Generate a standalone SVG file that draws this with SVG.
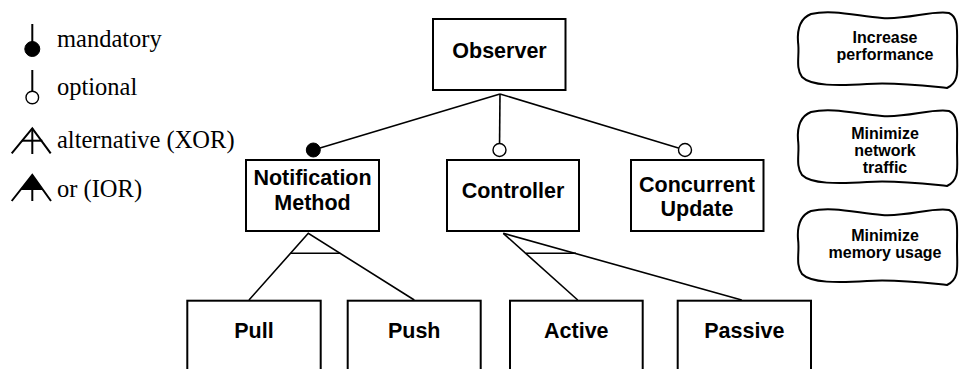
<svg xmlns="http://www.w3.org/2000/svg" width="959" height="369" viewBox="0 0 959 369">
  <defs>
    <style>
      .box { fill: #fff; stroke: #000; stroke-width: 2; }
      .lbl { font-family: "Liberation Sans", Arial, sans-serif; font-weight: bold; font-size: 21.5px; text-anchor: middle; fill: #000; }
      .goal { font-family: "Liberation Sans", Arial, sans-serif; font-weight: bold; font-size: 16px; text-anchor: middle; fill: #000; }
      .leg { font-family: "Liberation Serif", "Times New Roman", serif; font-size: 24.5px; fill: #000; }
      .ln { fill: none; stroke: #000; stroke-width: 1.6; }
      .lg { fill: none; stroke: #000; stroke-width: 2; }
      .blob { fill: #fff; stroke: #000; stroke-width: 2; }
      .opt { fill: #fff; stroke: #000; stroke-width: 1.4; }
      .man { fill: #000; stroke: #000; stroke-width: 1; }
    </style>
    <!-- hand-drawn cloud outline used for the goals -->
    <path id="cloud" d="M 14,4 C 35,-1 60,6 85,8 C 110,10 135,0 152,3 C 162,7 160,22 160,40 C 160,60 163,72 150,78 C 130,76 100,72 70,74 C 40,76 14,76 5,67 C -2,57 3,45 1,32 C 0,18 4,8 14,4 Z"/>
  </defs>

  <!-- legend -->
  <g id="legend">
    <line class="lg" x1="32.3" y1="24" x2="32.3" y2="43"/>
    <circle class="man" cx="32.3" cy="49" r="7.5"/>
    <text class="leg" x="57" y="46.7">mandatory</text>

    <line class="lg" x1="32.3" y1="70" x2="32.3" y2="91"/>
    <circle class="opt" cx="32.3" cy="97.5" r="6.3"/>
    <text class="leg" x="57" y="95">optional</text>

    <polyline class="lg" points="11.7,153.3 32.3,128.3 50.7,153.3"/>
    <line class="lg" x1="32.3" y1="128.3" x2="32.3" y2="154"/>
    <line class="lg" x1="22" y1="140.7" x2="42.3" y2="140.7"/>
    <text class="leg" x="57" y="148.3">alternative (XOR)</text>

    <polygon fill="#000" points="32.3,175 20.4,190 43.1,190"/>
    <polyline class="lg" points="11.7,201 32.3,175 51,201"/>
    <line class="lg" x1="32.3" y1="175" x2="32.3" y2="201"/>
    <text class="leg" x="57" y="196.7">or (IOR)</text>
  </g>

  <!-- connectors -->
  <g id="connectors">
    <line class="ln" x1="500" y1="94" x2="313.3" y2="150"/>
    <line class="ln" x1="500" y1="94" x2="499.5" y2="150"/>
    <line class="ln" x1="500" y1="94" x2="685" y2="150"/>
    <circle class="man" cx="313.3" cy="150" r="7"/>
    <circle class="opt" cx="499.5" cy="150" r="6.5"/>
    <circle class="opt" cx="685" cy="150" r="6.5"/>

    <polyline class="ln" points="249,300 308.3,233.3 414.3,300"/>
    <line class="ln" x1="290.5" y1="253.3" x2="340.3" y2="253.3"/>

    <line class="ln" x1="503.3" y1="233.3" x2="577.7" y2="300"/>
    <line class="ln" x1="503.3" y1="233.3" x2="741.7" y2="300"/>
    <line class="ln" x1="526" y1="253.3" x2="576" y2="253.3"/>
  </g>

  <!-- features -->
  <g id="observer">
    <rect class="box" x="433" y="19" width="132.5" height="71"/>
    <text class="lbl" x="499.5" y="58.3">Observer</text>
  </g>
  <g id="notification-method">
    <rect class="box" x="246" y="160" width="133" height="71"/>
    <text class="lbl" x="312.5" y="185">Notification</text>
    <text class="lbl" x="312.5" y="210">Method</text>
  </g>
  <g id="controller">
    <rect class="box" x="447" y="160" width="132" height="71"/>
    <text class="lbl" x="513" y="198.3">Controller</text>
  </g>
  <g id="concurrent-update">
    <rect class="box" x="631" y="160" width="132.5" height="71"/>
    <text class="lbl" x="697" y="191.7">Concurrent</text>
    <text class="lbl" x="697" y="216.3">Update</text>
  </g>
  <g id="pull">
    <rect class="box" x="187.3" y="300.7" width="133.4" height="90"/>
    <text class="lbl" x="254" y="337.5">Pull</text>
  </g>
  <g id="push">
    <rect class="box" x="347.7" y="300.7" width="133" height="90"/>
    <text class="lbl" x="414.2" y="337.5">Push</text>
  </g>
  <g id="active">
    <rect class="box" x="510" y="300.7" width="132.7" height="90"/>
    <text class="lbl" x="576.3" y="337.5">Active</text>
  </g>
  <g id="passive">
    <rect class="box" x="677.7" y="300.7" width="133.3" height="90"/>
    <text class="lbl" x="744.3" y="337.5">Passive</text>
  </g>

  <!-- goals -->
  <g id="goal-performance">
    <use href="#cloud" class="blob" transform="translate(797,10)"/>
    <text class="goal" x="885" y="43">Increase</text>
    <text class="goal" x="885" y="60">performance</text>
  </g>
  <g id="goal-network">
    <use href="#cloud" class="blob" transform="translate(797,108)"/>
    <text class="goal" x="885" y="139">Minimize</text>
    <text class="goal" x="885" y="156">network</text>
    <text class="goal" x="885" y="173">traffic</text>
  </g>
  <g id="goal-memory">
    <use href="#cloud" class="blob" transform="translate(797,207)"/>
    <text class="goal" x="885" y="241">Minimize</text>
    <text class="goal" x="885" y="258">memory usage</text>
  </g>
</svg>
